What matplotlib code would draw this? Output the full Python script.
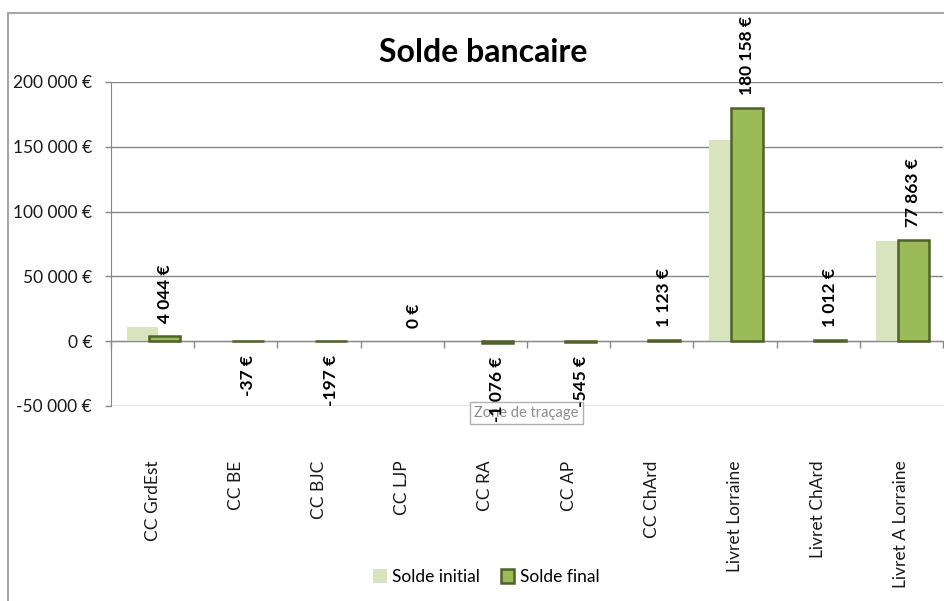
import numpy as np
import matplotlib
matplotlib.use('Agg')
import matplotlib.pyplot as plt
from matplotlib.patches import Patch, Rectangle
from matplotlib.ticker import FuncFormatter, MultipleLocator

plt.rcParams['font.family'] = ['Lato', 'DejaVu Sans']

# -----------------------------
# data
# -----------------------------
comptes = ['CC GrdEst', 'CC BE', 'CC BJC', 'CC LJP', 'CC RA', 'CC AP',
           'CC ChArd', 'Livret Lorraine', 'Livret ChArd', 'Livret A Lorraine']
solde_initial = [11000, 0, 0, 0, 0, 0, 0, 155000, 0, 77000]
solde_final = [4044, -37, -197, 0, -1076, -545, 1123, 180158, 1012, 77863]

col_init = '#D7E4BD'
col_final = '#9BBB59'
col_edge = '#4F6228'
col_grid = '#878787'


def euros(v, pos=None):
    return f"{int(round(v)):,}".replace(',', ' ') + ' €'


# -----------------------------
# figure
# -----------------------------
fig = plt.figure(figsize=(9.45, 6.01), dpi=100)
ax = fig.add_axes([111 / 945, 1 - 406 / 601, 832 / 945, 324 / 601])

x = np.arange(len(comptes))
w = 0.38
ax.bar(x - 0.12, solde_initial, w, color=col_init, zorder=2)
# excel draws nothing for an empty balance, so no outline there
lw_final = [0 if v == 0 else 1.8 for v in solde_final]
ax.bar(x + 0.145, solde_final, w, color=col_final, edgecolor=col_edge,
       linewidth=lw_final, zorder=3)

# data labels on the final balances
for xi, v in zip(x, solde_final):
    up = v >= 0
    ax.annotate(euros(v), (xi + 0.145, v), xytext=(0, 9.5 if up else -10),
                textcoords='offset points', rotation=90, ha='center',
                va='bottom' if up else 'top', fontsize=12.5,
                fontweight='bold', color='black', zorder=5)

ax.set_xlim(-0.5, len(comptes) - 0.5)
ax.set_ylim(-50000, 200000)
ax.yaxis.set_major_locator(MultipleLocator(50000))
ax.yaxis.set_major_formatter(FuncFormatter(euros))
ax.set_axisbelow(True)
ax.grid(axis='y', color=col_grid, linewidth=1)

for s in ['top', 'right']:
    ax.spines[s].set_visible(False)
ax.spines['left'].set_color(col_grid)
ax.spines['bottom'].set_color(col_grid)
ax.spines['bottom'].set_position(('data', 0))

ax.tick_params(axis='y', direction='out', length=4.5, width=1, color=col_grid,
               pad=9, labelsize=12.5, labelcolor='#1a1a1a')
ax.set_xticks(x)
ax.set_xticklabels(comptes, rotation=90)
ax.set_xticks(np.arange(-0.5, len(comptes), 1), minor=True)
ax.tick_params(axis='x', which='major', length=0, pad=86, labelsize=12.5,
               labelcolor='#1a1a1a')
ax.tick_params(axis='x', which='minor', direction='out', length=5, width=1,
               color=col_grid)

fig.text(483 / 945, 1 - 52 / 601, 'Solde bancaire', ha='center', va='center',
         fontsize=23, fontweight='bold')

handles = [Patch(facecolor=col_init, edgecolor='none', label='Solde initial'),
           Patch(facecolor=col_final, edgecolor=col_edge, linewidth=1.8,
                 label='Solde final')]
fig.legend(handles=handles, loc='center', bbox_to_anchor=(486 / 945, 1 - 577 / 601),
           ncol=2, frameon=False, fontsize=12.5, handlelength=0.8,
           handleheight=0.8, handletextpad=0.3, columnspacing=1.2)

# excel tooltip left in the screenshot, the data labels stay on top of it
ax.text(474 / 945, 1 - 413 / 601, 'Zone de traçage', ha='left', va='center',
        fontsize=10.5, color='#8c8c8c', zorder=4, transform=fig.transFigure,
        clip_on=False,
        bbox=dict(boxstyle='square,pad=0.3', facecolor='white',
                  edgecolor='#b0b0b0', linewidth=1))

# outer chart frame
fig.add_artist(Rectangle((8.5 / 945, -0.1), 1.2, (601 - 13) / 601 + 0.1,
                         transform=fig.transFigure, fill=False,
                         edgecolor='#a6a6a6', linewidth=1.5))

fig.savefig('out.png', dpi=100)
